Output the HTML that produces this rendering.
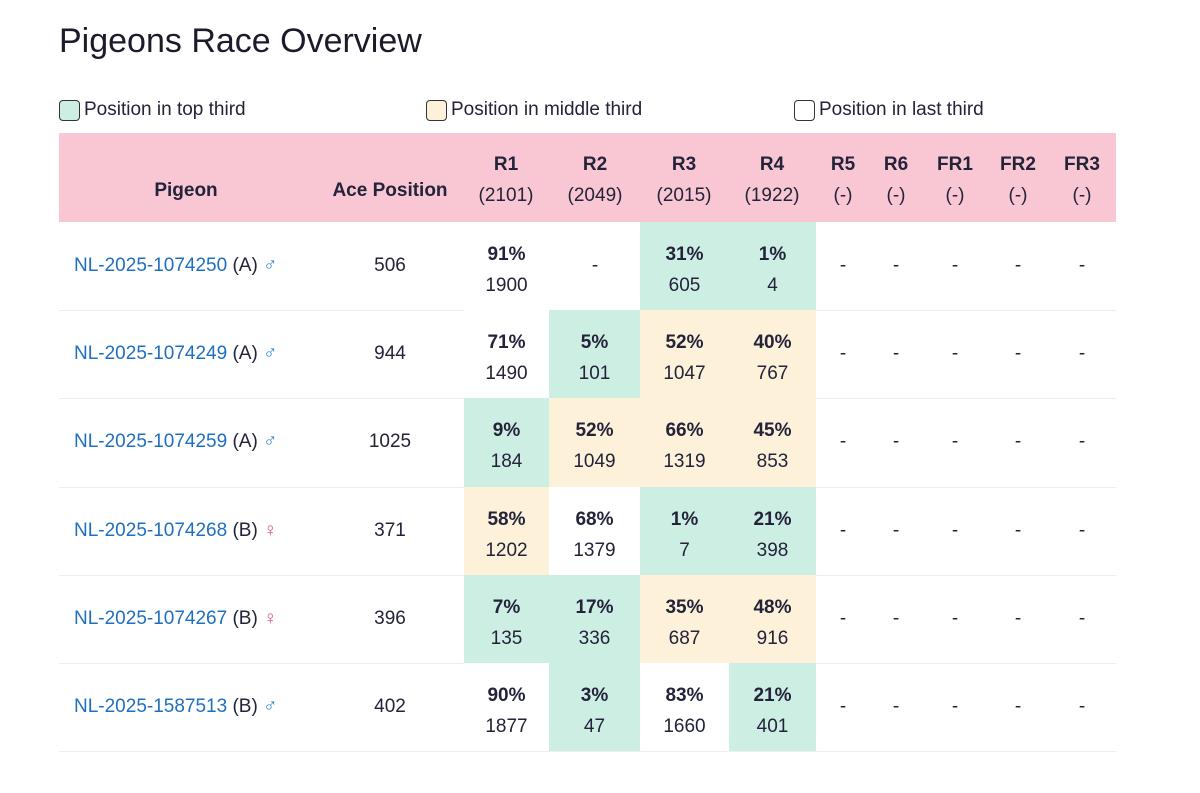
<!DOCTYPE html>
<html><head><meta charset="utf-8">
<style>
body{margin:0;width:1200px;height:793px;background:#fff;font-family:"Liberation Sans",sans-serif;color:#23233a;position:relative;overflow:hidden}
.abs{position:absolute}
h1{position:absolute;left:59px;top:22px;margin:0;font-weight:400;font-size:34px;color:#1b1b2b}
.leg{position:absolute;top:99px;font-size:19px;display:flex;align-items:center}
.sw{width:21px;height:21px;border:1.5px solid #333;border-radius:4px;margin-right:4px;box-sizing:border-box}
.hdr{position:absolute;left:59px;top:133px;width:1057px;height:89px;background:#f9c7d3}
.hc{position:absolute;text-align:center;font-size:19px;transform:translateX(-50%);white-space:nowrap}
.hc b{display:block;height:31px}
.cell{position:absolute;text-align:center;font-size:19px}
.row-line{position:absolute;left:59px;width:1057px;height:1px;background:#eeeef0}
a{color:#1f6fc0;text-decoration:none}
</style></head><body>
<h1>Pigeons Race Overview</h1>
<div class="leg" style="left:59px"><div class="sw" style="background:#cdeee3"></div>Position in top third</div>
<div class="leg" style="left:426px"><div class="sw" style="background:#fdf1da"></div>Position in middle third</div>
<div class="leg" style="left:794px"><div class="sw" style="background:#fff"></div>Position in last third</div>
<div class="hdr"></div>
<div id="t"></div>
<script>
const races=["R1","R2","R3","R4","R5","R6","FR1","FR2","FR3"];
const raceSizes=["2101","2049","2015","1922","-","-","-","-","-"];
const pigeons=["NL-2025-1074250","NL-2025-1074249","NL-2025-1074259","NL-2025-1074268","NL-2025-1074267","NL-2025-1587513"];
const groups=["A","A","A","B","B","B"];
const sexes=["m","m","m","f","f","m"];
const acePositions=[506,944,1025,371,396,402];
const positions=[[1900,null,605,4],[1490,101,1047,767],[184,1049,1319,853],[1202,1379,7,398],[135,336,687,916],[1877,47,1660,401]];
const percents=[[91,null,31,1],[71,5,52,40],[9,52,66,45],[58,68,1,21],[7,17,35,48],[90,3,83,21]];
const colX=[506,595,684,772,843,896,955,1018,1082];
const colL=[464,549,640,729];const colR=[549,640,729,816];
const t=document.getElementById('t');
function mk(cls,style,html){const d=document.createElement('div');d.className=cls;d.style.cssText=style;d.innerHTML=html;t.appendChild(d);return d;}
let h=mk('hc','left:186px;top:180px;font-weight:bold','Pigeon');


h=mk('hc','left:390px;top:180px;font-weight:bold','Ace Position');


races.forEach((r,i)=>{
 const e=mk('hc','left:'+colX[i]+'px;top:149px;line-height:31px','<b>'+r+'</b>('+raceSizes[i]+')');
 
 
});
const rowH=88.2, top0=222;
pigeons.forEach((p,ri)=>{
 const y=top0+ri*rowH;
 const ln=mk('row-line','top:'+(y+rowH)+'px','');
 
 
 const sym=sexes[ri]=='m'?'<span style="color:#2b7fd0">♂</span>':'<span style="color:#e0578f">♀</span>';
 const pc=mk('cell','left:74px;top:'+(y+33)+'px;text-align:left;white-space:nowrap','<a href="#">'+p+'</a> ('+groups[ri]+') '+sym);
 
 
 const ac=mk('cell','left:340px;width:100px;top:'+(y+33)+'px',String(acePositions[ri]));
 
 
 races.forEach((r,ci)=>{
  if(ci<4&&positions[ri][ci]!=null){
   const pos=positions[ri][ci], n=+raceSizes[ci];
   let bg='#fff'; if(pos<=n/3)bg='#cdeee3'; else if(pos<=2*n/3)bg='#fdf1da';
   const c=mk('cell','left:'+colL[ci]+'px;width:'+(colR[ci]-colL[ci])+'px;top:'+y+'px;height:'+rowH+'px;background:'+bg+';box-sizing:border-box;padding-top:17px;line-height:31px','<b>'+percents[ri][ci]+'%</b><br>'+pos);
   
   
  } else {
   const c=mk('cell','left:'+(colX[ci]-30)+'px;width:60px;top:'+(y+33)+'px','-');
   
   
  }
 });
});
</script>
</body></html>
